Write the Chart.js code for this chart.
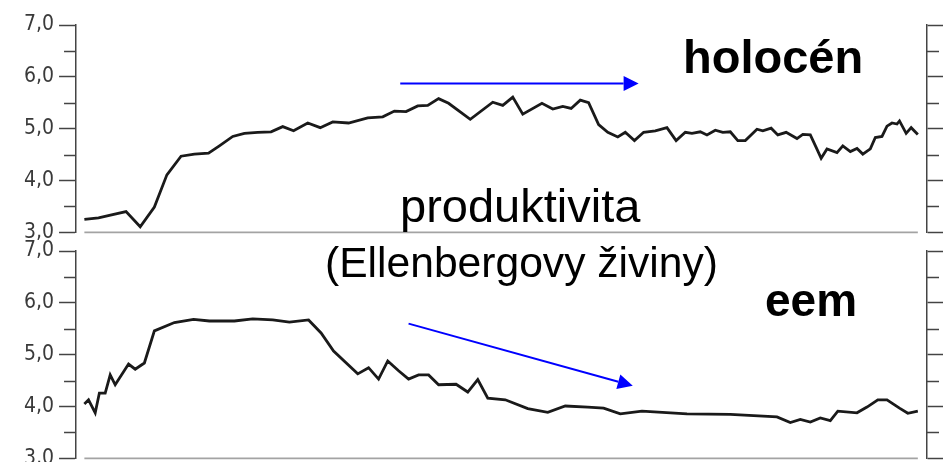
<!DOCTYPE html>
<html>
<head>
<meta charset="utf-8">
<script src="https://cdn.jsdelivr.net/npm/chart.js@4.4.1/dist/chart.umd.min.js"></script>
<style>
html,body{margin:0;padding:0;background:#fff;overflow:hidden}
#wrap{position:relative;width:943px;height:462px;overflow:hidden}
canvas{position:absolute;left:0}
#cTop{top:0}
#cBot{top:226px}
.lbl{position:absolute;font-family:"Liberation Sans",Arial,sans-serif;color:#000;line-height:1;white-space:nowrap}
</style>
</head>
<body>
<div id="wrap">
  <canvas id="cTop" width="943" height="250"></canvas>
  <canvas id="cBot" width="943" height="250"></canvas>
  <div class="lbl" style="left:683px;top:33px;font-size:47px;font-weight:bold">holocén</div>
  <div class="lbl" style="left:400px;top:182px;font-size:47px">produktivita</div>
  <div class="lbl" style="left:325px;top:241px;font-size:42.6px">(Ellenbergovy živiny)</div>
  <div class="lbl" style="left:765px;top:277px;font-size:46px;font-weight:bold">eem</div>
</div>
<script>
// relative position along the core (0 = oldest sample shown, 100 = youngest)
const holoX=[0,1.7,3.0,5.0,6.7,8.4,9.9,11.6,13.2,14.9,16.2,17.8,19.2,20.8,22.4,23.8,25.1,26.8,28.3,29.8,31.7,34.0,35.8,37.2,38.6,40.0,41.2,42.5,43.7,46.3,49.0,50.2,51.4,52.6,54.9,56.2,57.4,58.4,59.5,60.5,61.7,62.8,64.0,64.9,66.0,67.1,68.5,69.9,71.0,72.1,72.9,73.9,74.7,75.7,76.6,77.5,78.4,79.3,80.7,81.4,82.4,83.2,84.2,85.5,86.2,87.1,87.8,88.4,89.1,90.3,91.0,91.9,92.7,93.4,94.3,94.9,95.7,96.3,96.9,97.5,97.8,98.6,99.2,100]
const holoY=[3.25,3.28,3.33,3.40,3.11,3.49,4.11,4.47,4.51,4.53,4.67,4.85,4.91,4.93,4.94,5.04,4.96,5.11,5.02,5.13,5.11,5.21,5.23,5.34,5.33,5.44,5.45,5.58,5.49,5.18,5.51,5.45,5.61,5.28,5.49,5.38,5.43,5.39,5.55,5.50,5.08,4.93,4.84,4.93,4.77,4.93,4.96,5.02,4.77,4.93,4.91,4.94,4.88,4.97,4.93,4.94,4.77,4.77,4.99,4.96,5.01,4.88,4.93,4.81,4.89,4.88,4.64,4.43,4.61,4.54,4.67,4.56,4.62,4.51,4.61,4.83,4.85,5.05,5.11,5.09,5.15,4.91,5.02,4.89]

const eemX=[0,0.5,1.3,1.8,2.5,3.1,3.7,5.3,6.1,7.2,8.4,10.8,13.1,15.0,18.0,20.2,22.6,24.6,26.9,28.4,29.9,32.8,34.1,35.3,36.4,37.7,38.9,40.1,41.3,42.5,44.6,46.0,47.2,48.4,50.5,53.2,55.6,57.7,60.4,62.3,64.3,66.9,72.3,77.5,83.1,84.7,85.9,87.1,88.3,89.5,90.4,92.7,93.9,95.2,96.3,97.8,98.8,100]
const eemY=[4.05,4.13,3.88,4.26,4.26,4.61,4.42,4.82,4.72,4.84,5.46,5.62,5.68,5.65,5.65,5.69,5.67,5.63,5.67,5.42,5.07,4.63,4.75,4.53,4.88,4.69,4.53,4.61,4.61,4.42,4.43,4.28,4.52,4.16,4.13,3.96,3.89,4.01,3.99,3.97,3.86,3.91,3.86,3.85,3.80,3.69,3.75,3.70,3.78,3.73,3.91,3.88,3.99,4.13,4.13,3.97,3.87,3.91]

const yMin=3, yMax=7
const minorTicks=[3.5,4.5,5.5,6.5]

// trend arrows, in data units: [x0,y0,x1,y1]
const holoArrow=[37.9,5.87,66.5,5.87]
const eemArrow=[38.9,5.60,65.8,4.40]

const axisColor='#444'

const decor=arrow=>({
  id:'decor',
  afterDraw(chart){
    const ctx=chart.ctx
    const x=chart.scales.x, y=chart.scales.y, y2=chart.scales.y2
    ctx.save()
    // minor ticks
    ctx.strokeStyle=axisColor
    ctx.lineWidth=1.5
    minorTicks.forEach(v=>{
      const py=Math.round(y.getPixelForValue(v))+0.5
      ctx.beginPath()
      ctx.moveTo(y.right-12,py);ctx.lineTo(y.right,py)
      ctx.moveTo(y2.left,py);ctx.lineTo(y2.left+12,py)
      ctx.stroke()
    })
    // grey base line
    ctx.strokeStyle='#a3a3a3'
    ctx.lineWidth=1.6
    const by=y.getPixelForValue(yMin)
    ctx.beginPath()
    ctx.moveTo(x.getPixelForValue(0),by)
    ctx.lineTo(x.getPixelForValue(100),by)
    ctx.stroke()
    // arrow
    const x0=x.getPixelForValue(arrow[0]),y0=y.getPixelForValue(arrow[1])
    const x1=x.getPixelForValue(arrow[2]),y1=y.getPixelForValue(arrow[3])
    const a=Math.atan2(y1-y0,x1-x0), hl=15, hw=7.5
    const bx=x1-hl*Math.cos(a), byy=y1-hl*Math.sin(a)
    ctx.strokeStyle='#0000ff';ctx.fillStyle='#0000ff'
    ctx.lineWidth=2
    ctx.beginPath();ctx.moveTo(x0,y0);ctx.lineTo(bx,byy);ctx.stroke()
    ctx.beginPath()
    ctx.moveTo(x1,y1)
    ctx.lineTo(bx+hw*Math.sin(a),byy-hw*Math.cos(a))
    ctx.lineTo(bx-hw*Math.sin(a),byy+hw*Math.cos(a))
    ctx.closePath();ctx.fill()
    ctx.restore()
  }
})

function makePanel(canvas,xs,ys,arrow){
  return new Chart(canvas,{
    type:'line',
    data:{
      datasets:[{
        data:xs.map((v,i)=>({x:v,y:ys[i]})),
        borderColor:'#1a1a1a',
        borderWidth:2.8,
        pointRadius:0,
        tension:0,
        fill:false
      }]
    },
    options:{
      responsive:false,
      animation:false,
      devicePixelRatio:1,
      layout:{padding:{left:19,top:25,bottom:16,right:0}},
      plugins:{legend:{display:false},tooltip:{enabled:false}},
      scales:{
        x:{type:'linear',min:-1,max:101.1,display:false},
        y:{
          position:'left',min:yMin,max:yMax,
          ticks:{stepSize:1,padding:5,color:'#3a3a3a',font:{family:'DejaVu Sans Condensed',size:21},
            callback:v=>v.toFixed(1).replace('.',',')},
          grid:{drawOnChartArea:false,tickLength:17,tickColor:axisColor,tickWidth:1.5},
          border:{color:axisColor,width:1.5}
        },
        y2:{
          position:'right',min:yMin,max:yMax,
          ticks:{stepSize:1,display:false},
          grid:{drawOnChartArea:false,tickLength:16,tickColor:axisColor,tickWidth:1.5},
          border:{color:axisColor,width:1.5}
        }
      }
    },
    plugins:[decor(arrow)]
  })
}

makePanel(document.querySelector('#cTop'),holoX,holoY,holoArrow)
makePanel(document.querySelector('#cBot'),eemX,eemY,eemArrow)
</script>
</body>
</html>
